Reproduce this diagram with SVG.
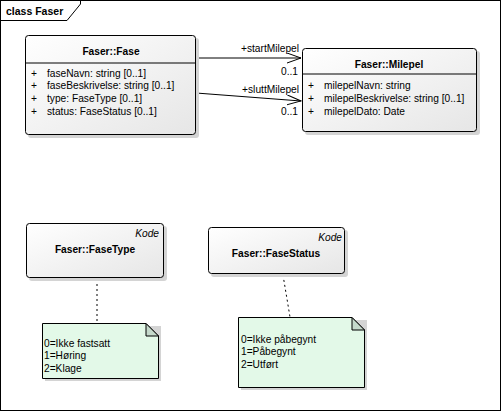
<svg xmlns="http://www.w3.org/2000/svg" width="502" height="412" viewBox="0 0 502 412">
<defs>
<linearGradient id="cg" x1="0" y1="0" x2="1" y2="1">
<stop offset="0" stop-color="#ffffff"/>
<stop offset="1" stop-color="#e6e6e6"/>
</linearGradient>
<marker id="open" markerWidth="16" markerHeight="12" refX="14" refY="5" orient="auto" markerUnits="userSpaceOnUse">
<path d="M0,0 L14,5 L0,10" fill="none" stroke="#000" stroke-width="1"/>
</marker>
</defs>
<style>
text{font-family:"Liberation Sans",Arial,sans-serif;font-size:10.2px;fill:#000}
.b{font-weight:bold}
.i{font-style:italic}
.m{text-anchor:middle}
.e{text-anchor:end}
.box{fill:url(#cg);stroke:#000;stroke-width:1}
.sh{fill:#d4d4d4}
.note{fill:#e3f9e8;stroke:#000;stroke-width:1}
.fold{fill:#c5d9cb;stroke:#000;stroke-width:1}
.ln{stroke:#000;stroke-width:1;fill:none}
.dash{stroke:#000;stroke-width:1;fill:none;stroke-dasharray:2,3}
</style>
<rect x="0" y="0" width="502" height="412" fill="#fff"/>
<g id="frame">
<rect x="0.5" y="0.5" width="500" height="410" fill="none" stroke="#000"/>
<path d="M80.5,0.5 V4 L67,20.5 H0.5" fill="none" stroke="#000"/>
<text x="6" y="15" class="b" style="font-size:10.5px">class Faser</text>
</g>
<g id="connectors">
<line x1="196" y1="58" x2="301" y2="58" class="ln" marker-end="url(#open)"/>
<text x="299" y="51.5" class="e">+startMilepel</text>
<text x="298" y="74.5" class="e">0..1</text>
<line x1="196" y1="93" x2="301" y2="101" class="ln" marker-end="url(#open)"/>
<text x="299" y="92.5" class="e">+sluttMilepel</text>
<text x="298" y="114.5" class="e">0..1</text>
<line x1="97" y1="279" x2="97" y2="323" class="dash"/>
<line x1="283" y1="275" x2="290" y2="317" class="dash"/>
</g>
<g id="Fase">
<rect x="28" y="38" width="171" height="100" rx="3" class="sh"/>
<rect x="25.5" y="35.5" width="170" height="99" rx="3" class="box"/>
<line x1="25.5" y1="63" x2="195.5" y2="63" class="ln"/>
<text x="111" y="54.5" class="b m">Faser::Fase</text>
<text x="31" y="76.5">+</text><text x="47" y="76.5">faseNavn: string [0..1]</text>
<text x="31" y="89.3">+</text><text x="47" y="89.3">faseBeskrivelse: string [0..1]</text>
<text x="31" y="102">+</text><text x="47" y="102">type: FaseType [0..1]</text>
<text x="31" y="114.8">+</text><text x="47" y="114.8">status: FaseStatus [0..1]</text>
</g>
<g id="Milepel">
<rect x="305" y="51" width="175" height="84" rx="3" class="sh"/>
<rect x="302.5" y="48.5" width="174" height="83" rx="3" class="box"/>
<line x1="302.5" y1="74" x2="476.5" y2="74" class="ln"/>
<text x="389" y="68" class="b m">Faser::Milepel</text>
<text x="308" y="88.7">+</text><text x="324" y="88.7">milepelNavn: string</text>
<text x="308" y="102">+</text><text x="324" y="102">milepelBeskrivelse: string [0..1]</text>
<text x="308" y="114.7">+</text><text x="324" y="114.7">milepelDato: Date</text>
</g>
<g id="FaseType">
<rect x="29" y="226" width="138" height="55" rx="3" class="sh"/>
<rect x="26.5" y="223.5" width="137" height="54" rx="3" class="box"/>
<text x="159" y="236.7" class="i e">Kode</text>
<text x="95" y="252.7" class="b m">Faser::FaseType</text>
</g>
<g id="FaseStatus">
<rect x="211" y="230" width="137" height="47" rx="3" class="sh"/>
<rect x="208.5" y="227.5" width="136" height="46" rx="3" class="box"/>
<text x="342" y="240.7" class="i e">Kode</text>
<text x="276" y="256.7" class="b m">Faser::FaseStatus</text>
</g>
<g id="NoteFaseType">
<rect x="45" y="326" width="116" height="55" class="sh"/>
<path d="M42.5,323.5 H146 L158.5,336 V378.5 H42.5 Z" class="note"/>
<path d="M146,323.5 V336 H158.5 Z" class="fold"/>
<text x="44" y="346.7">0=Ikke fastsatt</text>
<text x="44" y="359.2">1=Høring</text>
<text x="44" y="371.7">2=Klage</text>
</g>
<g id="NoteFaseStatus">
<rect x="241" y="320" width="126" height="70" class="sh"/>
<path d="M238.5,317.5 H352 L364.5,330 V387.5 H238.5 Z" class="note"/>
<path d="M352,317.5 V330 H364.5 Z" class="fold"/>
<text x="241" y="342.7">0=Ikke påbegynt</text>
<text x="241" y="355.2">1=Påbegynt</text>
<text x="241" y="367.7">2=Utført</text>
</g>
</svg>
